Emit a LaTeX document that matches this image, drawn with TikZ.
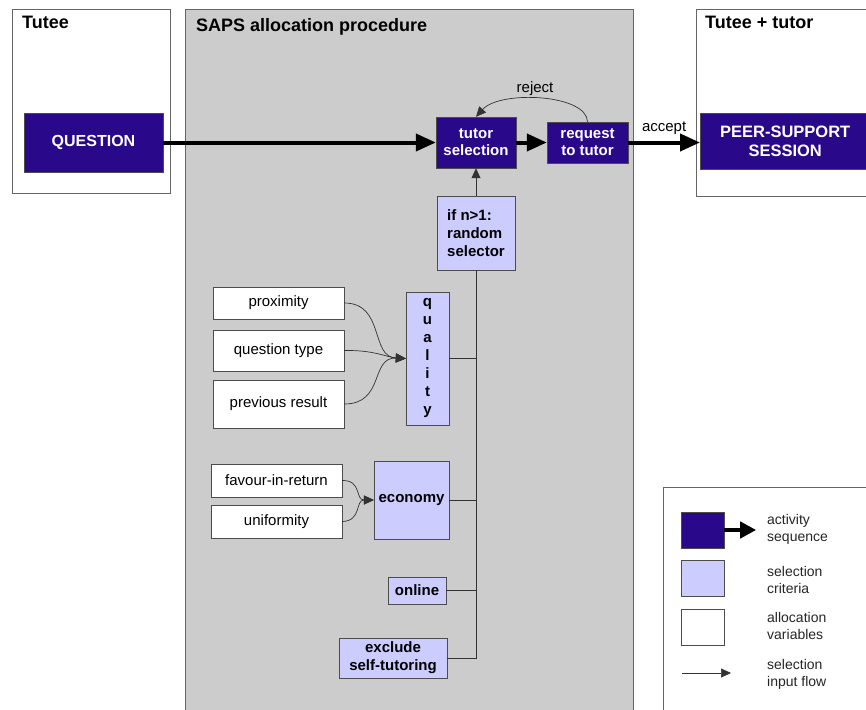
\documentclass[tikz,border=0pt]{standalone}
\usepackage{fontspec}
\setmainfont{Liberation Sans}
\usepackage{tikz}
\usetikzlibrary{positioning,arrows.meta}

\definecolor{actblue}{RGB}{42,8,138}
\definecolor{critblue}{RGB}{204,204,255}
\definecolor{procgray}{RGB}{204,204,204}

\begin{document}
\begin{tikzpicture}[
  x=1pt, y=-1pt,
  font=\fontsize{15}{17}\selectfont,
  act/.style={draw=black!70, fill=actblue, text=white, font=\fontsize{15}{17}\selectfont\bfseries, inner sep=0pt, align=center},
  crit/.style={draw=black!70, fill=critblue, font=\fontsize{15}{18}\selectfont\bfseries, inner sep=0pt, align=center},
  var/.style={draw=black!70, fill=white, inner sep=0pt, minimum width=131pt, align=center},
  lane/.style={draw=black!60, line width=0.6pt},
  bigflow/.style={-{Triangle[length=20pt,width=17pt]}, line width=4pt},
  inflow/.style={-{Triangle[length=10pt,width=9pt]}, line width=0.7pt, draw=black!80},
  branch/.style={line width=0.7pt, draw=black!80},
  hdr/.style={anchor=north west, font=\fontsize{18}{20}\selectfont\bfseries, inner sep=0pt},
  legtext/.style={anchor=west, align=left, font=\fontsize{14}{17}\selectfont, text=black!85, inner sep=0pt}
]
\useasboundingbox (0,0) rectangle (866,709);

% lanes
\draw[lane, fill=white] (12,9) rectangle (170,193);
\draw[lane, fill=procgray] (185,9) rectangle (633,715);
\draw[lane, fill=white] (696,9) rectangle (875,196);
\node[hdr] (hTutee) at (22,16) {Tutee};
\node[hdr] (hSaps) at (196,18) {SAPS allocation procedure};
\node[hdr] (hPair) at (705,16) {Tutee + tutor};

% activity sequence
\node[act, minimum width=139pt, minimum height=59pt, font=\fontsize{16}{18}\selectfont\bfseries] (question) at (93.5,142.5) {QUESTION};
\node[act, minimum width=80pt, minimum height=51pt] (select) at (476,142.5) {tutor\\selection};
\node[act, minimum width=81pt, minimum height=41pt] (request) at (587.5,142.5) {request\\to tutor};
\node[act, minimum width=170pt, minimum height=56pt, anchor=west, font=\fontsize{16.5}{19}\selectfont\bfseries] (session) at (700,141) {PEER-SUPPORT\\SESSION};

\draw[bigflow] (question) -- (select);
\draw[bigflow] (select) -- (request);
\draw[bigflow] (request) -- node[above=3pt] (lAccept) {accept} (session.west |- request);
\draw[inflow] (request.north) .. controls (587,94) and (500,90) .. (select.north);
\node (lReject) at (535,89) {reject};

% selection criteria
\node[crit, minimum width=78pt, minimum height=74pt, align=left] (random) at (476,233) {if n>1:\\random\\selector};
\node[crit, minimum width=43pt, minimum height=133pt, font=\fontsize{15}{18}\selectfont\bfseries] (quality) at (427.5,358.5) {q\\u\\a\\l\\i\\t\\y};
\node[crit, minimum width=75pt, minimum height=78pt] (economy) at (411.5,500) {economy};
\node[crit, minimum width=58pt, minimum height=27pt] (online) at (417,590.5) {online};
\node[crit, minimum width=108pt, minimum height=40pt] (exclude) at (393,658) {exclude\\self-tutoring};

\draw[inflow] (random) -- (select);
\draw[branch] (random.south) -- (random.south |- exclude.east) -- (exclude.east);
\draw[branch] (quality.east) -- (quality.east -| random.south);
\draw[branch] (economy.east) -- (economy.east -| random.south);
\draw[branch] (online.east) -- (online.east -| random.south);

% allocation variables
\node[var, minimum height=32pt] (proximity) at (278.5,303) {proximity};
\node[var, minimum height=41pt] (qtype) at (278.5,350.5) {question type};
\node[var, minimum height=48pt] (prevres) at (278.5,404) {previous result};
\node[var, minimum height=33pt] (favour) at (276.5,480.5) {favour-in-return};
\node[var, minimum height=33pt] (uniform) at (276.5,521.5) {uniformity};

\draw[inflow] (proximity.east) .. controls (385,303) and (370,357) .. (quality.west);
\draw[inflow] (qtype.east) .. controls (375,350) and (385,357) .. (quality.west);
\draw[inflow] (prevres.east) .. controls (385,404) and (370,357) .. (quality.west);
\draw[inflow] (favour.east) .. controls (362,480) and (355,500) .. (economy.west);
\draw[inflow] (uniform.east) .. controls (362,521) and (355,500) .. (economy.west);

% legend
\draw[lane, fill=white] (663,487) rectangle (875,715);
\node[draw=black!70, fill=actblue, minimum width=43pt, minimum height=36pt, inner sep=0pt] (kAct) at (702.5,530) {};
\node[draw=black!70, fill=critblue, minimum width=43pt, minimum height=36pt, inner sep=0pt] (kCrit) at (702.5,578) {};
\node[draw=black!70, fill=white, minimum width=43pt, minimum height=36pt, inner sep=0pt] (kVar) at (702.5,627) {};
\coordinate (kFlowA) at (682,673);
\coordinate (kFlowB) at (731,673);
\draw[-{Triangle[length=16pt,width=16pt]}, line width=4pt] (kAct.east) -- ++(32,0) coordinate (kActEnd);
\draw[inflow] (kFlowA) -- (kFlowB);
\node[legtext] (tAct) at (767,529) {activity\\sequence};
\node[legtext] (tCrit) at (767,580) {selection\\criteria};
\node[legtext] (tVar) at (767,626) {allocation\\variables};
\node[legtext] (tFlow) at (767,674) {selection\\input flow};
\end{tikzpicture}
\end{document}
